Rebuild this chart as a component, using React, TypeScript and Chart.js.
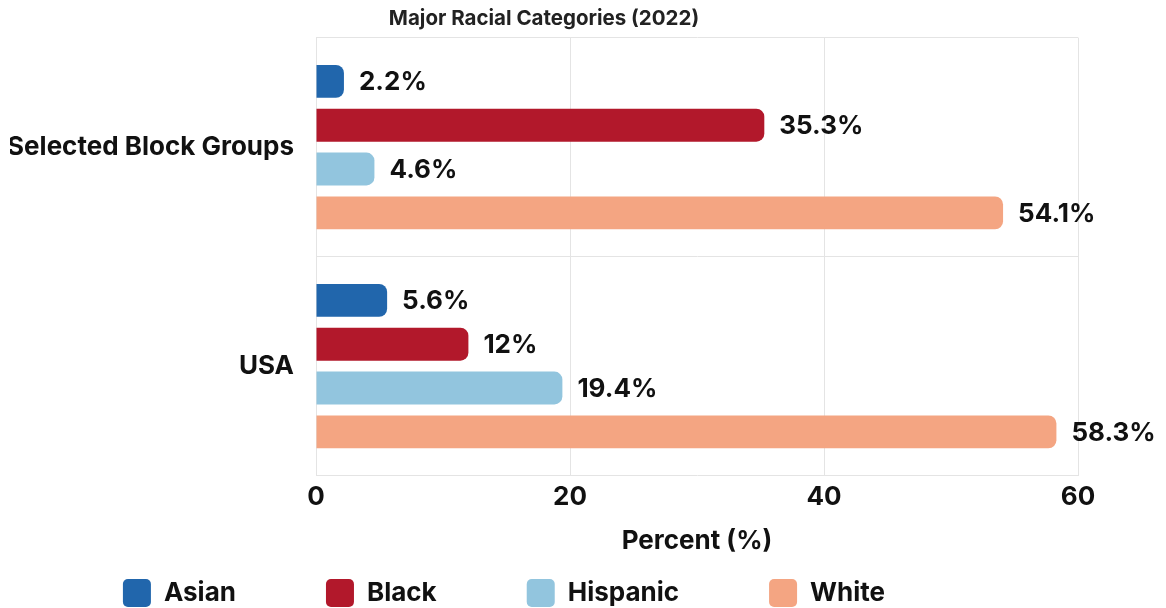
import React, { useEffect, useRef } from 'react';
import { Chart, registerables } from 'chart.js';

Chart.register(...registerables);

const categories = ['Selected Block Groups', 'USA'];
const seriesNames = ['Asian', 'Black', 'Hispanic', 'White'];
const asianValues = [2.2, 5.6];
const blackValues = [35.3, 12];
const hispanicValues = [4.6, 19.4];
const whiteValues = [54.1, 58.3];
const seriesColors = ['#2166ac', '#b2182b', '#92c5de', '#f4a582'];
const xMin = 0;
const xMax = 60;
const xStep = 20;
const chartTitle = 'Major Racial Categories (2022)';
const xTitle = 'Percent (%)';

const FONT_FAMILY = 'Inter';
const TEXT_COLOR = '#111111';
const GRID_COLOR = '#e4e4e4';
const LEGEND_PAD = '             ';

const valueLabelPlugin = {
  id: 'valueLabels',
  afterDatasetsDraw(chart: any) {
    const ctx = chart.ctx;
    ctx.save();
    ctx.font = `bold 26px ${FONT_FAMILY}`;
    ctx.fillStyle = TEXT_COLOR;
    ctx.textAlign = 'left';
    ctx.textBaseline = 'middle';
    chart.data.datasets.forEach((ds: any, i: number) => {
      const meta = chart.getDatasetMeta(i);
      meta.data.forEach((el: any, j: number) => {
        ctx.fillText(`${ds.data[j]}%`, el.x + 15, el.y + 1);
      });
    });
    ctx.restore();
  },
};

export default function App() {
  const canvasRef = useRef<HTMLCanvasElement | null>(null);

  useEffect(() => {
    if (!canvasRef.current) return;
    Chart.defaults.font.family = FONT_FAMILY;
    const seriesData = [asianValues, blackValues, hispanicValues, whiteValues];
    const tickFont = { family: FONT_FAMILY, size: 26, weight: 'bold' as const };
    const chart = new Chart(canvasRef.current, {
      type: 'bar',
      data: {
        labels: categories,
        datasets: seriesNames.map((name, i) => ({
          label: name,
          data: seriesData[i],
          backgroundColor: seriesColors[i],
          borderWidth: 0,
          borderRadius: 8,
          borderSkipped: 'start',
          barPercentage: 0.75,
          categoryPercentage: 0.8,
        })),
      },
      options: {
        indexAxis: 'y',
        animation: false,
        responsive: true,
        maintainAspectRatio: false,
        layout: { padding: { left: 10, right: 88, top: 6, bottom: -9 } },
        scales: {
          x: {
            min: xMin,
            max: xMax,
            ticks: { stepSize: xStep, font: tickFont, color: TEXT_COLOR, padding: 6 },
            grid: { color: GRID_COLOR, drawTicks: false },
            border: { display: false },
            title: {
              display: true,
              text: xTitle,
              font: tickFont,
              color: TEXT_COLOR,
              padding: { top: 7, bottom: 12 },
            },
          },
          y: {
            ticks: { font: tickFont, color: TEXT_COLOR, padding: 22 },
            grid: { color: GRID_COLOR, drawTicks: false },
            border: { color: GRID_COLOR },
            afterFit: (scale: any) => {
              scale.width = 306;
            },
          },
        },
        plugins: {
          title: {
            display: true,
            text: chartTitle,
            font: { family: FONT_FAMILY, size: 20.5, weight: 'bold' },
            color: '#222222',
            padding: { top: 0, bottom: 6 },
          },
          legend: {
            position: 'bottom',
            labels: {
              font: tickFont,
              color: TEXT_COLOR,
              boxWidth: 28,
              boxHeight: 28,
              padding: 10,
              useBorderRadius: true,
              borderRadius: 5,
              generateLabels: (c: any) => {
                const items = Chart.defaults.plugins.legend.labels.generateLabels(c);
                return items.map((it: any) => ({ ...it, text: it.text + LEGEND_PAD, lineWidth: 0 }));
              },
            },
          },
          tooltip: { enabled: false },
        },
      },
      plugins: [valueLabelPlugin],
    });
    return () => chart.destroy();
  }, []);

  return (
    <div style={{ position: 'absolute', left: 0, top: 0, width: 1166, height: 608, background: '#ffffff' }}>
      <canvas ref={canvasRef} />
    </div>
  );
}
